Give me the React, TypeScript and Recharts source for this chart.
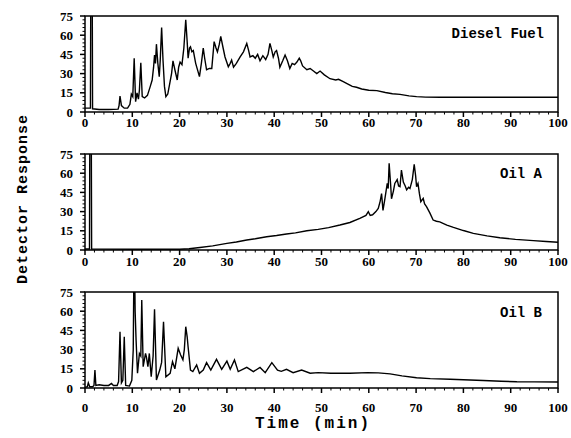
import React from 'react';
import { LineChart, Line, XAxis, YAxis, ReferenceArea } from 'recharts';

// Time (min), detector response
const dieselFuel: [number, number][] = [
  [0, 3], [0.8, 3], [1.15, 3], [1.3, 200], [1.45, 200], [1.6, 2.5], [3, 2], [5, 2], [7, 2.2], [7.2, 5], [7.4, 12.5], [7.7, 5],
  [8.3, 3], [9, 3], [9.5, 6], [9.8, 14], [10.1, 12], [10.4, 42], [10.7, 8], [11, 15], [11.3, 10], [11.5, 17], [11.8, 38.5],
  [12.1, 12], [12.6, 11], [13.2, 13], [13.8, 20], [14.2, 25], [14.5, 35], [14.7, 44.5], [14.9, 38], [15.1, 53], [15.4, 38],
  [15.7, 27.6], [15.9, 40], [16.2, 66], [16.5, 40], [16.8, 20], [17.1, 12], [17.5, 14], [18.0, 24], [18.3, 30], [18.6, 40],
  [19.0, 33], [19.5, 25], [19.8, 35], [20.1, 39], [20.5, 37], [20.9, 50], [21.3, 72], [21.6, 55], [21.8, 42], [22.1, 50],
  [22.3, 51], [22.6, 47], [22.9, 48], [23.4, 38], [24.2, 27.6], [24.6, 38], [25.0, 50], [25.3, 42], [25.7, 33], [26.3, 34],
  [26.8, 34], [27.3, 55], [27.7, 50], [28.0, 47], [28.4, 53], [28.7, 59], [29.2, 50], [29.6, 43], [30.3, 35.4], [30.7, 38],
  [31.0, 40.6], [31.4, 35], [32.0, 38], [32.8, 43], [33.5, 47], [34.2, 53.6], [34.6, 48], [34.9, 43], [35.5, 44], [36.0, 42],
  [36.5, 45], [37.0, 40], [37.6, 44], [38.2, 41], [38.7, 45], [39.1, 53.6], [39.5, 48], [39.8, 43], [40.2, 47], [40.5, 48],
  [40.9, 42], [41.2, 35], [41.8, 40], [42.3, 44.5], [42.8, 40], [43.3, 34], [43.8, 38], [44.3, 37], [44.8, 39], [45.3, 42],
  [45.6, 40], [46.0, 36], [46.9, 33], [47.6, 34], [48.3, 32], [49.0, 30], [49.7, 32], [50.6, 29], [51.8, 26], [53.0, 25],
  [53.6, 25.5], [54.6, 23.7], [55.5, 22], [56.5, 20], [57.4, 19.3], [58.5, 18], [60, 17], [61.7, 16.7], [63.5, 15.2],
  [65, 14.3], [66.6, 13.8], [68.5, 12.6], [70.1, 12], [72, 11.6], [75, 11.5], [80, 11.5], [85, 11.5], [90, 11.5],
  [95, 11.5], [100, 11.5],
];

const oilA: [number, number][] = [
  [0, 0.8], [0.95, 0.8], [1.1, 200], [1.25, 200], [1.4, 0.8], [3, 0.7], [10, 0.6], [18, 0.6], [20, 0.6], [22, 1], [24.3, 2],
  [27, 3.2], [30, 5.2], [32, 6.3], [34.2, 7.8], [36, 8.8], [38.4, 10.4], [40.5, 11.3], [42.6, 12.5], [44.5, 13.4],
  [46.9, 15], [49.3, 16.1], [51.5, 17.5], [53.9, 19.5], [56, 21.5], [58.1, 24.7], [59.4, 27], [59.9, 30], [60.3, 27],
  [60.8, 27.5], [61.5, 30], [62, 32.5], [62.4, 38], [62.7, 44], [63.0, 31], [63.4, 40], [63.9, 52], [64.1, 48],
  [64.3, 67.7], [64.6, 52], [64.8, 40], [65.2, 46], [65.5, 52], [66.0, 55], [66.3, 50], [66.6, 49.5], [66.9, 62.5],
  [67.3, 53], [67.7, 50], [68.0, 47], [68.4, 49], [68.7, 48], [69.2, 55], [69.6, 67], [69.9, 58], [70.1, 49.5],
  [70.4, 52], [70.7, 44], [71, 37.8], [71.5, 40.4], [71.8, 36], [72.2, 33.9], [72.9, 29], [73.6, 23.4], [74.3, 22.5],
  [75, 22], [76.5, 19.5], [77.9, 17.7], [80, 15.2], [82.1, 13], [85, 11], [87.7, 9.6], [91, 8.3], [94.8, 7.3],
  [97.5, 6.6], [100, 6],
];

const oilB: [number, number][] = [
  [0, 0.5], [0.5, 1], [0.7, 4], [1.0, 1], [1.6, 1], [1.9, 2], [2.1, 14], [2.3, 2], [3, 2.5], [4, 2], [5, 2], [5.6, 3.6],
  [6, 2], [6.8, 2], [7.1, 5], [7.4, 44], [7.7, 4], [8.0, 6], [8.3, 40], [8.6, 2], [9.4, 1.5], [9.9, 6], [10.2, 30],
  [10.4, 120], [10.6, 60], [10.8, 37.5], [11.1, 11.5], [11.5, 27], [11.8, 25], [12.0, 68.7], [12.3, 16.7], [12.8, 27],
  [13.0, 24], [13.3, 16.7], [13.6, 27], [14.0, 8.8], [14.4, 25], [14.7, 61.5], [15.1, 6.2], [15.8, 14], [16.2, 20],
  [16.6, 51.8], [17.1, 8.8], [18.0, 11.5], [18.5, 20.6], [19.0, 15], [19.7, 31], [20.2, 26], [20.7, 22], [21.0, 30],
  [21.3, 47.9], [21.6, 40], [21.8, 32], [22.3, 14], [22.8, 12.8], [23.6, 18], [24.2, 11.5], [25.0, 14], [25.7, 19.8],
  [26.6, 14], [27.8, 22.4], [28.9, 14.6], [30, 21], [30.7, 14.6], [31.6, 21.9], [32.4, 12.8], [34.2, 16.1], [35.6, 12.8],
  [37, 16.1], [38.1, 12], [39.5, 19.8], [40.7, 14], [41.5, 13], [42.6, 14.6], [44.0, 12], [45.8, 14], [47.6, 11.5],
  [49.3, 12], [52, 11.5], [56, 11.5], [59.8, 12], [62, 11.8], [64.5, 11], [67, 9.5], [70.1, 8], [73, 7.3], [77.2, 6.8],
  [80, 6.4], [84.2, 5.9], [88, 5.3], [91.3, 4.9], [95, 4.8], [100, 4.7],
];

const xMajorTicks = [0, 10, 20, 30, 40, 50, 60, 70, 80, 90, 100];
const yMajorTicks = [0, 15, 30, 45, 60, 75];
const xAllTicks = Array.from({ length: 51 }, (_, i) => i * 2);
const yAllTicks = Array.from({ length: 26 }, (_, i) => i * 3);

const panels = [
  { name: 'Diesel Fuel', series: dieselFuel, top: 0, labelDy: 14.5, axisH: 24 },
  { name: 'Oil A', series: oilA, top: 138, labelDy: 15.5, axisH: 24 },
  { name: 'Oil B', series: oilB, top: 276, labelDy: 24, axisH: 30 },
];

const tickFont = { fontFamily: '"Liberation Serif", serif', fontWeight: 700, fontSize: 13 };

const makeXTick = (labelDy: number) => (props: any) => {
  const { x, y, payload } = props;
  const v = payload.value;
  const major = xMajorTicks.includes(v);
  return (
    <g>
      <line x1={x} x2={x} y1={y} y2={y + (major ? 5 : 2.5)} stroke="#000" strokeWidth={major ? 1.5 : 1} />
      {major && (
        <text x={x} y={y + labelDy} textAnchor="middle" fill="#000" style={tickFont}>
          {v}
        </text>
      )}
    </g>
  );
};

const YTick = (props: any) => {
  const { x, y, payload } = props;
  const v = payload.value;
  const major = yMajorTicks.includes(v);
  return (
    <g>
      <line x1={x - (major ? 5 : 2.5)} x2={x} y1={y} y2={y} stroke="#000" strokeWidth={major ? 1.5 : 1} />
      {major && (
        <text x={x - 12} y={y + 4.5} textAnchor="end" fill="#000" style={tickFont}>
          {v}
        </text>
      )}
    </g>
  );
};

const monoBold = { fontFamily: '"Liberation Mono", monospace', fontWeight: 700 };

export default function App() {
  return (
    <div style={{ position: 'absolute', left: 0, top: 0, width: 571, height: 438, background: '#fff' }}>
      {panels.map((p) => {
        const data = p.series.map(([t, v]) => ({ t, v }));
        const h = 112 + p.axisH;
        return (
          <div key={p.name} style={{ position: 'absolute', left: 0, top: p.top, width: 571, height: h }}>
            <LineChart width={571} height={h} data={data} margin={{ top: 16, right: 13, left: 0, bottom: 0 }}>
              <XAxis
                dataKey="t"
                type="number"
                domain={[0, 100]}
                ticks={xAllTicks}
                interval={0}
                axisLine={false}
                tickLine={false}
                tickSize={0}
                tickMargin={0}
                height={p.axisH}
                tick={makeXTick(p.labelDy)}
              />
              <YAxis
                type="number"
                domain={[0, 75]}
                allowDataOverflow
                ticks={yAllTicks}
                interval={0}
                axisLine={false}
                tickLine={false}
                tickSize={0}
                tickMargin={0}
                width={85}
                tick={<YTick />}
              />
              <ReferenceArea x1={0} x2={100} y1={0} y2={75} fill="none" stroke="#000" strokeWidth={1.5} fillOpacity={0} />
              <Line
                dataKey="v"
                type="linear"
                stroke="#000"
                strokeWidth={1.4}
                dot={false}
                isAnimationActive={false}
              />
            </LineChart>
          </div>
        );
      })}
      <svg width={571} height={438} style={{ position: 'absolute', left: 0, top: 0, pointerEvents: 'none' }}>
        <text x={544} y={38} textAnchor="end" fontSize={14} style={monoBold} fill="#000">Diesel Fuel</text>
        <text x={542} y={178} textAnchor="end" fontSize={14} style={monoBold} fill="#000">Oil A</text>
        <text x={542} y={317} textAnchor="end" fontSize={14} style={monoBold} fill="#000">Oil B</text>
        <text x={313} y={428} textAnchor="middle" fontSize={16} letterSpacing={2} style={monoBold} fill="#000">Time (min)</text>
        <text
          x={0}
          y={0}
          transform="translate(27,199) rotate(-90)"
          textAnchor="middle"
          fontSize={15}
          letterSpacing={1}
          style={monoBold}
          fill="#000"
        >
          Detector Response
        </text>
      </svg>
    </div>
  );
}
